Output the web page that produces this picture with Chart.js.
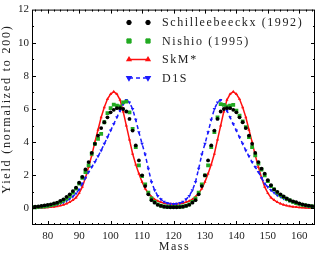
<!DOCTYPE html>
<html>
<head>
<meta charset="utf-8">
<script src="https://cdn.jsdelivr.net/npm/chart.js@4/dist/chart.umd.min.js"></script>
<style>
  html, body { margin: 0; padding: 0; background: #fff; }
  canvas { display: block; }
</style>
</head>
<body>
<canvas id="yieldChart" width="316" height="253"></canvas>
<script>
    // ---- data (mass number vs. yield, normalized to 200) ----
    const masses = [75,76,77,78,79,80,81,82,83,84,85,86,87,88,89,90,91,92,93,94,95,96,97,98,99,
                    100,101,102,103,104,105,106,107,108,109,110,111,112,113,114,115,116,117,118,119,120,
                    121,122,123,124,125,126,127,128,129,130,131,132,133,134,135,136,137,138,139,140,
                    141,142,143,144,145,146,147,148,149,150,151,152,153,154,155,156,157,158,159,160,
                    161,162,163,164,165];

    const schilleebeeckx = [
        0.08,0.1,0.12,0.15,0.18,0.21,0.25,0.3,0.35,0.45, 0.55,0.7,0.85,1.05,1.25,1.55,1.9,2.35,2.8,3.35,
        3.9,4.4,4.85,5.2,5.5,5.8,5.95,6.05,6.05,6.0, 5.85,5.4,4.7,3.8,2.9,2.0,1.35,0.85,0.5,0.35,
        0.22,0.15,0.1,0.08,0.07,0.07,
        0.07,0.08,0.1,0.15,0.22,0.35,0.5,0.85,1.35,2.0, 2.9,3.8,4.7,5.4,5.85,6.0,6.05,6.05,5.95,5.8,
        5.5,5.2,4.85,4.4,3.9,3.35,2.8,2.4,2.1,1.7, 1.4,1.15,1.0,0.85,0.72,0.6,0.5,0.43,0.38,0.3,
        0.25,0.2,0.17,0.14,0.12];
    const nishio = [
        0.06,0.07,0.09,0.11,0.13,0.16,0.2,0.25,0.3,0.38, 0.47,0.6,0.75,0.95,1.2,1.5,1.85,2.2,2.6,3.3,
        3.9,4.2,4.5,5.2,5.75,6.05,6.27,6.2,6.15,6.4, 6.45,5.8,4.8,3.7,2.6,1.95,1.45,0.95,0.6,0.4,
        0.25,0.17,0.12,0.1,0.09,0.09,
        0.09,0.1,0.12,0.17,0.25,0.4,0.6,0.95,1.45,2.0, 2.6,3.7,4.6,5.5,6.3,6.25,6.15,6.2,6.25,5.9,
        5.6,5.25,4.9,4.3,3.7,3.2,2.7,2.35,2.0,1.65, 1.35,1.15,0.95,0.8,0.68,0.57,0.48,0.4,0.32,0.27,
        0.22,0.18,0.15,0.12,0.1];
    const skm = [
        0.02,0.02,0.03,0.04,0.05,0.06,0.08,0.1,0.13,0.17, 0.22,0.29,0.38,0.5,0.65,0.92,1.3,1.85,2.5,3.2,
        4.0,4.75,5.5,6.1,6.6,6.9,7.05,6.9,6.55,5.85, 5.0,4.15,3.3,2.65,2.1,1.6,1.2,0.92,0.7,0.55,
        0.45,0.38,0.32,0.29,0.27,0.26,
        0.27,0.29,0.32,0.38,0.45,0.55,0.7,0.92,1.2,1.6, 2.1,2.65,3.3,4.15,5.0,5.85,6.55,6.9,7.05,6.9,
        6.6,6.1,5.5,4.75,4.0,3.2,2.5,1.85,1.3,0.92, 0.65,0.5,0.38,0.29,0.22,0.17,0.13,0.1,0.08,0.06,
        0.05,0.04,0.03,0.02,0.02];
    const d1s = [
        0.05,0.06,0.07,0.08,0.1,0.13,0.16,0.2,0.25,0.31, 0.38,0.47,0.58,0.72,0.9,1.15,1.5,1.85,2.2,2.5,
        2.8,3.15,3.5,3.9,4.3,4.7,5.1,5.5,5.9,6.3, 6.55,6.4,6.0,5.35,4.6,3.9,3.25,2.4,1.6,1.1,
        0.75,0.55,0.4,0.33,0.28,0.27,
        0.28,0.33,0.4,0.55,0.75,1.1,1.6,2.4,3.25,3.9, 4.6,5.35,6.0,6.4,6.55,6.3,5.9,5.5,5.1,4.7,
        4.3,3.9,3.5,3.15,2.8,2.5,2.2,1.85,1.5,1.3, 1.1,0.95,0.8,0.7,0.6,0.52,0.45,0.37,0.3,0.25,
        0.2,0.16,0.12,0.1,0.08];

    const xTickLabels = [80, 90, 100, 110, 120, 130, 140, 150, 160];
    const yTickLabels = [0, 2, 4, 6, 8, 10, 12];

    const seriesNames = ['Schilleebeeckx (1992)', 'Nishio (1995)', 'SkM*', 'D1S'];

    const SERIF = "'Liberation Serif', 'Times New Roman', serif";
    const toPts = vals => masses.map((m, i) => ({ x: m, y: vals[i] }));

    // frame with inward ticks on all four sides, axis titles and legend
    const framePlugin = {
        id: 'frame',
        afterDraw(chart) {
            const { ctx, chartArea: a, scales: { x, y } } = chart;
            ctx.save();
            ctx.strokeStyle = '#000';
            ctx.lineWidth = 1;
            ctx.strokeRect(a.left + 0.5, a.top + 0.5, a.right - a.left - 1, a.bottom - a.top - 1);

            ctx.beginPath();
            for (let v = 76; v < 165; v += 2) {
                const px = Math.round(x.getPixelForValue(v)) + 0.5;
                const len = v % 10 === 0 ? 4 : 2;
                ctx.moveTo(px, a.bottom); ctx.lineTo(px, a.bottom - len);
                ctx.moveTo(px, a.top); ctx.lineTo(px, a.top + len);
            }
            for (let v = 0; v < 12; v++) {
                const py = Math.round(y.getPixelForValue(v)) + 0.5;
                const len = v % 2 === 0 ? 4 : 2;
                ctx.moveTo(a.left, py); ctx.lineTo(a.left + len, py);
                ctx.moveTo(a.right, py); ctx.lineTo(a.right - len, py);
            }
            ctx.stroke();

            // axis titles (letter-spaced)
            ctx.fillStyle = '#222';
            ctx.font = '12px ' + SERIF;
            ctx.textAlign = 'center';
            ctx.textBaseline = 'middle';
            ctx.letterSpacing = '1.5px';
            ctx.fillText('Mass', (a.left + a.right) / 2 + 1, 247);
            ctx.save();
            ctx.translate(7, 109);
            ctx.rotate(-Math.PI / 2);
            ctx.letterSpacing = '1.8px';
            ctx.fillText('Yield (normalized to 200)', 0, 0);
            ctx.restore();

            // legend
            const rows = [22.5, 41, 59.5, 78];
            const x0 = 129, x1 = 148;
            chart.data.datasets.forEach((ds, i) => {
                const yy = rows[i];
                ctx.strokeStyle = ds.borderColor;
                ctx.fillStyle = ds.pointBackgroundColor;
                if (ds.showLine) {
                    ctx.lineWidth = ds.borderWidth;
                    ctx.setLineDash(ds.borderDash || []);
                    ctx.beginPath(); ctx.moveTo(x0, yy); ctx.lineTo(x1, yy); ctx.stroke();
                    ctx.setLineDash([]);
                }
                [x0, x1].forEach(px => {
                    Chart.helpers.drawPoint(ctx, {
                        pointStyle: ds.pointStyle, rotation: ds.pointRotation || 0,
                        radius: ds.pointRadius + 0.3, borderWidth: 1
                    }, px, yy);
                });
                ctx.fillStyle = '#222';
                ctx.textAlign = 'left';
                ctx.letterSpacing = '1.6px';
                ctx.fillText(seriesNames[i], 162, yy + 0.5);
            });
            ctx.restore();
        }
    };

    new Chart(document.getElementById('yieldChart').getContext('2d'), {
        type: 'line',
        data: {
            datasets: [
                { label: seriesNames[0], data: toPts(schilleebeeckx), showLine: false,
                  pointStyle: 'circle', pointRadius: 1.9, borderColor: '#000', pointBackgroundColor: '#000',
                  pointBorderColor: '#000', pointBorderWidth: 0, order: 0 },
                { label: seriesNames[1], data: toPts(nishio), showLine: false,
                  pointStyle: 'rect', pointRadius: 2.7, borderColor: '#22aa22', pointBackgroundColor: '#22aa22',
                  pointBorderColor: '#22aa22', pointBorderWidth: 0, order: 1 },
                { label: seriesNames[2], data: toPts(skm), showLine: true, borderWidth: 1.5,
                  pointStyle: 'triangle', pointRadius: 1.8, borderColor: '#ff1010', pointBackgroundColor: '#ff1010',
                  pointBorderColor: '#ff1010', pointBorderWidth: 0, order: 3 },
                { label: seriesNames[3], data: toPts(d1s), showLine: true, borderWidth: 1.5, borderDash: [4, 3],
                  pointStyle: 'triangle', pointRotation: 180, pointRadius: 2, borderColor: '#1a1aff',
                  pointBackgroundColor: '#1a1aff', pointBorderColor: '#1a1aff', pointBorderWidth: 0, order: 2 }
            ]
        },
        options: {
            responsive: false,
            animation: false,
            layout: { autoPadding: false, padding: { top: 5, right: 1, left: 0, bottom: 0 } },
            plugins: { legend: { display: false }, tooltip: { enabled: false } },
            scales: {
                x: {
                    type: 'linear', min: 75, max: 165,
                    afterBuildTicks: s => { s.ticks = xTickLabels.map(v => ({ value: v })); },
                    afterFit: s => { s.height = 28; },
                    grid: { display: false, drawTicks: false },
                    border: { display: false },
                    ticks: { color: '#222', font: { family: SERIF, size: 11 }, padding: 5, maxRotation: 0 }
                },
                y: {
                    min: -1, max: 12,
                    afterBuildTicks: s => { s.ticks = yTickLabels.map(v => ({ value: v })); },
                    afterFit: s => { s.width = 32; },
                    grid: { display: false, drawTicks: false },
                    border: { display: false },
                    ticks: { color: '#222', font: { family: SERIF, size: 11 }, padding: 3 }
                }
            }
        },
        plugins: [framePlugin]
    });
</script>
</body>
</html>
